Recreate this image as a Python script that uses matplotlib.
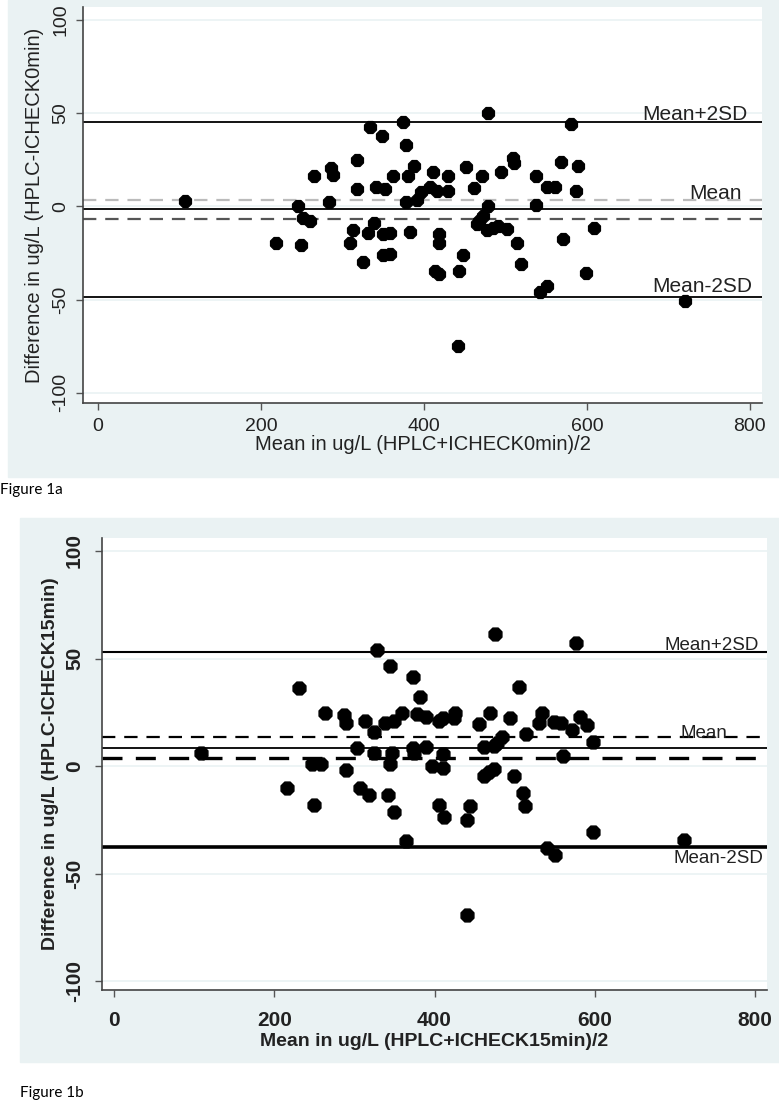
import matplotlib.pyplot as plt
from matplotlib.patches import Rectangle

# Figure 1a - ICHECK at 0 min
mean_0 = [107, 479, 580, 374, 334, 349, 378, 318, 286, 288, 265, 318, 341, 352, 362,
          381, 388, 411, 429, 452, 471, 495, 509, 510, 537, 568, 589, 551, 561, 587,
          461, 430, 416, 408, 397, 391, 378, 284, 246, 252, 260, 219, 249, 313, 309,
          332, 339, 350, 358, 325, 350, 359, 383, 418, 419, 414, 418, 443, 448, 442,
          479, 465, 473, 477, 491, 502, 485, 514, 519, 538, 571, 609, 599, 542, 551,
          468, 720]
diff_0 = [2.8, 50.1, 44.4, 45.1, 42.6, 38.0, 33.0, 24.8, 20.7, 16.6, 16.3, 9.4, 10.5, 9.4, 16.3,
          16.3, 21.6, 18.7, 16.3, 21.0, 16.3, 18.2, 26.0, 23.4, 16.3, 23.7, 21.6, 10.5, 10.5, 8.2,
          10.0, 8.2, 8.2, 10.5, 7.7, 3.4, 2.3, 2.3, 0.2, -6.0, -7.8, -19.4, -20.7, -12.7, -19.4,
          -14.4, -9.1, -15.0, -14.2, -30.1, -26.2, -25.7, -13.7, -15.0, -19.8, -34.6, -36.4, -34.6, -26.0, -74.7,
          0.2, -9.6, -5.2, -12.7, -10.6, -12.0, -11.4, -19.4, -31.0, 0.5, -17.3, -11.4, -35.5, -45.8, -42.6,
          -7.8, -50.6]
# upper LoA, mean, upper/lower CI of mean, lower LoA
ref_0 = [45.5, -1.5, 3.4, -7.0, -48.5]

# Figure 1b - ICHECK at 15 min
mean_15 = [108, 328, 345, 373, 382, 231, 505, 263, 287, 289, 313, 324, 338, 349, 360,
           378, 390, 406, 411, 426, 424, 455, 469, 494, 514, 534, 530, 549, 558, 572,
           581, 590, 598, 561, 484, 478, 474, 462, 474, 462, 468, 499, 511, 513, 598,
           540, 551, 303, 324, 347, 373, 374, 390, 410, 344, 397, 411, 247, 258, 289,
           216, 249, 307, 318, 342, 349, 406, 412, 444, 441, 365, 441, 576, 475, 712]
diff_15 = [6.2, 54.0, 46.7, 41.6, 31.9, 36.3, 36.9, 24.9, 23.8, 20.2, 21.0, 16.0, 20.2, 21.0, 24.9,
           24.4, 22.9, 21.0, 22.6, 24.9, 22.3, 19.8, 24.9, 22.6, 15.1, 24.9, 20.2, 20.5, 20.2, 16.7,
           22.9, 19.2, 11.4, 4.7, 13.5, 10.9, 9.3, 8.9, -1.1, -4.7, -2.6, -4.7, -12.5, -18.7, -30.8,
           -37.9, -41.3, 8.6, 6.2, 6.2, 8.6, 6.2, 8.9, 5.5, 1.1, 0.0, -0.8, 0.8, 0.8, -2.0,
           -10.1, -17.9, -10.1, -13.6, -13.6, -21.5, -18.2, -23.8, -18.7, -24.9, -34.6, -69.3, 57.2, 61.5, -34.3]
ref_15 = [53.0, 8.6, 13.5, 3.6, -37.5]

x_ticks = [0, 200, 400, 600, 800]
y_ticks = [-100, -50, 0, 50, 100]

W, H = 779, 1107
BG = '#eaf2f3'
fig = plt.figure(figsize=(W / 100, H / 100), dpi=100)


def box(l, t, r, b):
    return [l / W, 1 - b / H, (r - l) / W, (b - t) / H]


def panel(ax, x, y, ref, xlim, ylim, fam, weight, styles, labels, xlab, ylab,
          ms, tick_fs, title_fs, xpad, ypad, xlpad, ylpad):
    ax.set_facecolor('white')
    for v in y_ticks:
        ax.axhline(v, color=BG, lw=1.2, zorder=0)
    for v, (c, ls, lw) in zip(ref, styles):
        if ls == '--':
            ax.axhline(v, color=c, lw=lw, zorder=1, dashes=(6, 4))
        else:
            ax.axhline(v, color=c, lw=lw, zorder=1)
    ax.scatter(x, y, s=ms, marker='8', color='black', zorder=3)
    ax.set_xlim(*xlim)
    ax.set_ylim(*ylim)
    ax.set_xticks(x_ticks)
    ax.set_yticks(y_ticks)
    ax.set_yticklabels([str(v) for v in y_ticks], rotation=90, va='center')
    for lab in ax.get_xticklabels() + ax.get_yticklabels():
        lab.set_family(fam)
        lab.set_fontsize(tick_fs)
        lab.set_fontweight(weight)
        lab.set_color('#222222')
    ax.tick_params(direction='out', length=5, width=1, color='#555555')
    ax.tick_params(axis='x', pad=xpad)
    ax.tick_params(axis='y', pad=ypad)
    for s in ['top', 'right']:
        ax.spines[s].set_visible(False)
    for s in ['left', 'bottom']:
        ax.spines[s].set_color('#444444')
        ax.spines[s].set_linewidth(1.2)
    ax.set_xlabel(xlab, family=fam, fontsize=title_fs, fontweight=weight, color='#222222',
                  labelpad=xlpad)
    ax.set_ylabel(ylab, family=fam, fontsize=title_fs, fontweight=weight, color='#222222',
                  labelpad=ylpad)
    for (txt, xr, yv, fs) in labels:
        ax.text(xr, yv, txt, transform=ax.get_yaxis_transform(), ha='right', va='baseline',
                family=fam, fontsize=fs, color='#222222', zorder=4)


fam_a = ['Liberation Sans Narrow', 'Liberation Sans', 'DejaVu Sans']
fig.patches.append(Rectangle((8 / W, 1 - 477 / H), (W - 8) / W, 477 / H,
                             transform=fig.transFigure, color=BG, zorder=-10))
fig.patches.append(Rectangle((20 / W, 1 - 1062 / H), (W - 20) / W, (1062 - 518) / H,
                             transform=fig.transFigure, color=BG, zorder=-10))

ax1 = fig.add_axes(box(83, 7, 762, 403))
panel(ax1, mean_0, diff_0, ref_0, (-18.4, 815), (-105.5, 107), fam_a, 'normal',
      [('black', '-', 1.3), ('black', '-', 1.3), ('#bbbbbb', '--', 1.6),
       ('#555555', '--', 1.6), ('black', '-', 1.3)],
      [('Mean+2SD', 0.978, ref_0[0] + 1.0, 15), ('Mean', 0.97, ref_0[2] + 0.4, 15),
       ('Mean-2SD', 0.986, ref_0[4] + 2.3, 15)],
      'Mean in ug/L (HPLC+ICHECK0min)/2', 'Difference in ug/L (HPLC-ICHECK0min)',
      85, 14, 14.5, 6, 5, 0, 6)

ax2 = fig.add_axes(box(102, 538, 767, 990))
panel(ax2, mean_15, diff_15, ref_15, (-15, 815), (-104, 106), fam_a, 'bold',
      [('black', '-', 1.5), ('black', '-', 1.3), ('black', '--', 1.6),
       ('black', '--', 2.4), ('black', '-', 2.6)],
      [('Mean+2SD', 0.988, ref_15[0] + 0.8, 13.5), ('Mean', 0.94, ref_15[2] - 0.3, 13.5),
       ('Mean-2SD', 0.995, ref_15[4] - 7.4, 13.5)],
      'Mean in ug/L (HPLC+ICHECK15min)/2', 'Difference in ug/L (HPLC-ICHECK15min)',
      100, 15, 14, 10, 8, 2, 4)

fig.text(0 / W, 1 - 490 / H, 'Figure 1a', family=['Lato', 'DejaVu Sans'], fontsize=11, va='center')
fig.text(20 / W, 1 - 1093 / H, 'Figure 1b', family=['Lato', 'DejaVu Sans'], fontsize=11, va='center')

fig.savefig('out.png', dpi=100, facecolor='white')
